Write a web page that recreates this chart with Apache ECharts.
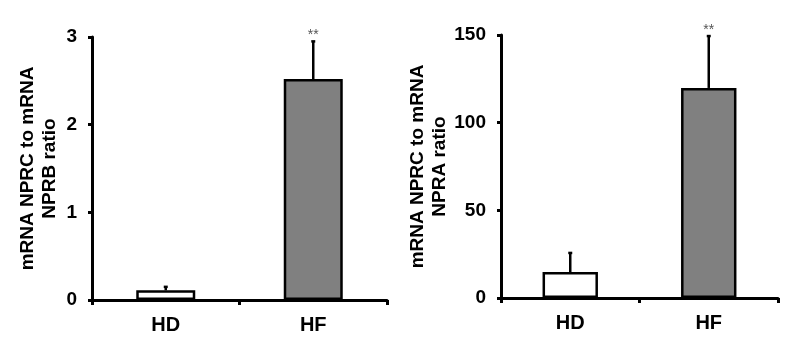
<!DOCTYPE html>
<html>
<head>
<meta charset="utf-8">
<script src="https://cdn.jsdelivr.net/npm/echarts@6/dist/echarts.min.js"></script>
<style>
  html, body { margin: 0; padding: 0; background: #fff; }
  #chart { width: 800px; height: 364px; }
</style>
</head>
<body>
<div id="chart"></div>
<script>
// 数据
const groups = ['HD', 'HF'];
const nprbRatio = [0.11, 2.52];
const nprbErr = [0.04, 0.43];
const npraRatio = [14.8, 119.8];
const npraErr = [10.9, 29.6];
const sigMarks = ['', '**'];
const barColors = ['#ffffff', '#808080'];

const FONT = '"Liberation Sans", Arial, sans-serif';

// 误差线
function errorSeries(axisIdx, values, errs) {
    return {
        type: 'custom',
        xAxisIndex: axisIdx,
        yAxisIndex: axisIdx,
        data: values.map((v, i) => [i, v, v + errs[i]]),
        z: 1,
        renderItem: function(params, api) {
            const base = api.coord([api.value(0), api.value(1)]);
            const top = api.coord([api.value(0), api.value(2)]);
            const mark = sigMarks[api.value(0)];
            const children = [
                { type: 'line', shape: { x1: base[0], y1: base[1], x2: top[0], y2: top[1] },
                  style: { stroke: '#000', lineWidth: 2.5 } },
                { type: 'line', shape: { x1: top[0] - 2, y1: top[1], x2: top[0] + 2, y2: top[1] },
                  style: { stroke: '#000', lineWidth: 2.5 } }
            ];
            if (mark) {
                children.push({ type: 'text', x: top[0], y: top[1] + 1,
                    style: { text: mark, fill: '#555', font: '14px ' + FONT, align: 'center', verticalAlign: 'bottom' } });
            }
            return { type: 'group', children: children };
        }
    };
}

function makeXAxis(gridIdx) {
    return {
        type: 'category',
        gridIndex: gridIdx,
        data: groups,
        axisLine: { lineStyle: { color: '#000', width: 3 } },
        axisTick: { show: true, length: 5, lineStyle: { color: '#000', width: 3 } },
        axisLabel: { color: '#000', fontSize: 20, fontWeight: 'bold', fontFamily: FONT, margin: 15 }
    };
}

function makeYAxis(gridIdx, max, interval, name) {
    return {
        type: 'value',
        gridIndex: gridIdx,
        min: 0, max: max, interval: interval,
        name: name,
        nameLocation: 'middle',
        nameRotate: 90,
        nameGap: 31,
        nameTextStyle: { color: '#000', fontSize: 19, fontWeight: 'bold', fontFamily: FONT, lineHeight: 22 },
        axisLine: { show: true, lineStyle: { color: '#000', width: 3 } },
        axisTick: { show: true, length: 4, lineStyle: { color: '#000', width: 3 } },
        axisLabel: { color: '#000', fontSize: 19, fontWeight: 'bold', fontFamily: FONT, margin: 15 },
        splitLine: { show: false }
    };
}

function barSeries(axisIdx, values) {
    return {
        type: 'bar',
        xAxisIndex: axisIdx,
        yAxisIndex: axisIdx,
        barWidth: '40%',
        z: 2,
        data: values.map((v, i) => ({
            value: v,
            itemStyle: { color: barColors[i], borderColor: '#000', borderWidth: 2.5 }
        }))
    };
}

const chart = echarts.init(document.getElementById('chart'));
chart.setOption({
    animation: false,
    backgroundColor: '#fff',
    grid: [
        { left: 92, top: 37, width: 295, height: 263 },
        { left: 501, top: 35, width: 277, height: 263 }
    ],
    xAxis: [makeXAxis(0), makeXAxis(1)],
    yAxis: [
        makeYAxis(0, 3, 1, 'mRNA NPRC to mRNA\nNPRB ratio'),
        makeYAxis(1, 150, 50, 'mRNA NPRC to mRNA\nNPRA ratio')
    ],
    series: [
        errorSeries(0, nprbRatio, nprbErr),
        barSeries(0, nprbRatio),
        errorSeries(1, npraRatio, npraErr),
        barSeries(1, npraRatio)
    ]
});
</script>
</body>
</html>
